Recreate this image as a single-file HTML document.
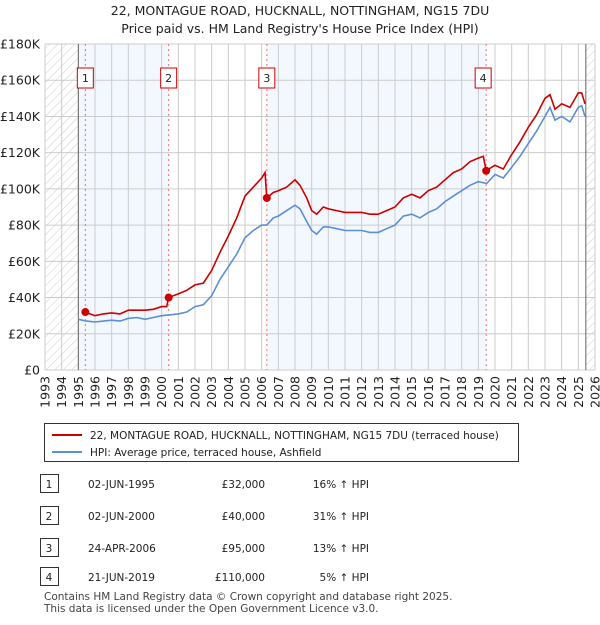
<!DOCTYPE html>
<html><head><meta charset="utf-8"><style>
body{margin:0;background:#fff;font-family:"Liberation Sans","DejaVu Sans",sans-serif;}
</style></head><body>
<svg width="600" height="620" xmlns="http://www.w3.org/2000/svg" font-family="DejaVu Sans, Liberation Sans, sans-serif">
<defs><pattern id="hatch" width="6" height="6" patternUnits="userSpaceOnUse" patternTransform="rotate(45)"><line x1="0" y1="0" x2="0" y2="6" stroke="#ccc" stroke-width="1"/></pattern></defs>
<text x="300" y="15" text-anchor="middle" font-size="12.5" fill="#222">22, MONTAGUE ROAD, HUCKNALL, NOTTINGHAM, NG15 7DU</text>
<text x="300" y="33" text-anchor="middle" font-size="12.5" fill="#222">Price paid vs. HM Land Registry's House Price Index (HPI)</text>
<g id="plot"></g>
<g>
<rect x="44.5" y="423.5" width="474" height="38" fill="#fff" stroke="#333"/>
<line x1="52" y1="435" x2="82" y2="435" stroke="#cc0000" stroke-width="2"/>
<text x="90" y="439" font-size="10.5" fill="#222">22, MONTAGUE ROAD, HUCKNALL, NOTTINGHAM, NG15 7DU (terraced house)</text>
<line x1="52" y1="452" x2="82" y2="452" stroke="#5b8fd4" stroke-width="2"/>
<text x="90" y="456" font-size="10.5" fill="#222">HPI: Average price, terraced house, Ashfield</text>
</g>
<g id="table" font-size="10.5" fill="#222"></g>
<text x="44" y="600" font-size="10.5" fill="#444">Contains HM Land Registry data © Crown copyright and database right 2025.</text>
<text x="44" y="612" font-size="10.5" fill="#444">This data is licensed under the Open Government Licence v3.0.</text>
</svg>
<script>
const hpiYears=[1995,1995.5,1996,1996.5,1997,1997.5,1998,1998.5,1999,1999.5,2000,2000.5,2001,2001.5,2002,2002.5,2003,2003.5,2004,2004.5,2005,2005.5,2006,2006.3,2006.7,2007,2007.5,2008,2008.3,2008.7,2009,2009.3,2009.7,2010,2010.5,2011,2011.5,2012,2012.5,2013,2013.5,2014,2014.5,2015,2015.5,2016,2016.5,2017,2017.5,2018,2018.5,2019,2019.5,2020,2020.5,2021,2021.5,2022,2022.5,2023,2023.3,2023.6,2024,2024.5,2025,2025.2,2025.4];
const hpiValues=[28,27,26.5,27,27.5,27,28.5,29,28,29,30,30.5,31,32,35,36,41,50,57,64,73,77,80,80,84,85,88,91,89,82,77,75,79,79,78,77,77,77,76,76,78,80,85,86,84,87,89,93,96,99,102,104,103,108,106,112,118,125,132,140,145,138,140,137,145,146,140];
const priceYears=[1995.42,1995.7,1996,1996.5,1997,1997.5,1998,1998.5,1999,1999.5,2000,2000.3,2000.42,2000.7,2001,2001.5,2002,2002.5,2003,2003.5,2004,2004.5,2005,2005.5,2006,2006.2,2006.31,2006.7,2007,2007.5,2008,2008.3,2008.7,2009,2009.3,2009.7,2010,2010.5,2011,2011.5,2012,2012.5,2013,2013.5,2014,2014.5,2015,2015.5,2016,2016.5,2017,2017.5,2018,2018.5,2019,2019.3,2019.47,2019.8,2020,2020.5,2021,2021.5,2022,2022.5,2023,2023.3,2023.6,2024,2024.5,2025,2025.2,2025.4];
const priceValues=[32,31,30,31,31.5,31,33,33,33,33.5,35,35,40,41,42,44,47,48,55,65,74,84,96,101,106,109,95,98,99,101,105,102,95,88,86,90,89,88,87,87,87,86,86,88,90,95,97,95,99,101,105,109,111,115,117,118,110,112,113,111,119,126,134,141,150,152,144,147,145,153,153,147];
const saleYears=[1995.42,2000.42,2006.31,2019.47];
const saleValues=[32,40,95,110];
const saleLabels=["1","2","3","4"];
const saleDates=["02-JUN-1995","02-JUN-2000","24-APR-2006","21-JUN-2019"];
const salePrices=["£32,000","£40,000","£95,000","£110,000"];
const salePct=["16% ↑ HPI","31% ↑ HPI","13% ↑ HPI","5% ↑ HPI"];
const yTicks=[0,20,40,60,80,100,120,140,160,180];
const yTickLabels=["£0","£20K","£40K","£60K","£80K","£100K","£120K","£140K","£160K","£180K"];
const xTicks=[1993,1994,1995,1996,1997,1998,1999,2000,2001,2002,2003,2004,2005,2006,2007,2008,2009,2010,2011,2012,2013,2014,2015,2016,2017,2018,2019,2020,2021,2022,2023,2024,2025,2026];

const NS="http://www.w3.org/2000/svg";
const L=45,R=595,T=44,B=370;
const X=y=>L+(y-1993)/(2026-1993)*(R-L);
const Y=v=>B-v/180*(B-T);
function mk(tag,attrs,parent){const e=document.createElementNS(NS,tag);for(const k in attrs)e.setAttribute(k,attrs[k]);parent.appendChild(e);return e;}
const g=document.getElementById('plot');
// shaded bands
let e;
e=mk('rect',{x:X(1995),y:T,width:X(2000.42)-X(1995),height:B-T,fill:'#eef3fd',opacity:0.7},g);


e=mk('rect',{x:X(2006.31),y:T,width:X(2019.47)-X(2006.31),height:B-T,fill:'#eef3fd',opacity:0.7},g);


e=mk('rect',{x:L,y:T,width:X(1995)-L,height:B-T,fill:'url(#hatch)'},g);


e=mk('rect',{x:X(2025.45),y:T,width:R-X(2025.45),height:B-T,fill:'url(#hatch)'},g);


// grid
yTicks.forEach((v,i)=>{
 e=mk('line',{x1:L,x2:R,y1:Y(v),y2:Y(v),stroke:'#ccc','stroke-width':1},g);
 
 
 e=mk('text',{x:40,y:Y(v)+4.5,'text-anchor':'end','font-size':12.5,fill:'#222'},g);
 e.textContent=yTickLabels[i];
 
 
});
xTicks.forEach(yr=>{
 e=mk('line',{x1:X(yr),x2:X(yr),y1:T,y2:B,stroke:'#ccc','stroke-width':1},g);
 
 
 e=mk('text',{x:0,y:0,'text-anchor':'end','font-size':12.5,fill:'#222',transform:`translate(${X(yr)+4.5},376) rotate(-90)`},g);
 e.textContent=yr;
 
 
});
e=mk('line',{x1:X(1995),x2:X(1995),y1:T,y2:B,stroke:'#666','stroke-width':1},g);


e=mk('line',{x1:X(2025.45),x2:X(2025.45),y1:T,y2:B,stroke:'#666','stroke-width':1},g);


// sale vlines & labels
saleYears.forEach((yr,i)=>{
 e=mk('line',{x1:X(yr),x2:X(yr),y1:T,y2:B,stroke:'#f07070','stroke-width':1,'stroke-dasharray':'2,3'},g);
 
 
 e=mk('rect',{x:X(yr)-8-(i==3?3:0),y:68,width:16,height:20,fill:'#fff',stroke:'#cc0000'},g);
 
 
 e=mk('text',{x:X(yr)-(i==3?3:0),y:82,'text-anchor':'middle','font-size':11,fill:'#222'},g);
 e.textContent=saleLabels[i];
 
 
});
// lines
const path=(xs,vs)=>xs.map((x,i)=>(i?'L':'M')+X(x).toFixed(1)+','+Y(vs[i]).toFixed(1)).join('');
e=mk('path',{d:path(hpiYears,hpiValues),fill:'none',stroke:'#5b8fd4','stroke-width':1.6},g);


e=mk('path',{d:path(priceYears,priceValues),fill:'none',stroke:'#cc0000','stroke-width':1.6},g);


saleYears.forEach((yr,i)=>{
 e=mk('circle',{cx:X(yr),cy:Y(saleValues[i]),r:4,fill:'#cc0000'},g);
 
 
});
// table
const t=document.getElementById('table');
const rowsY=[484,516,548,577];
rowsY.forEach((ry,i)=>{
 e=mk('rect',{x:40.5,y:ry-9.5,width:18,height:18,fill:'#fff',stroke:'#333'},t);
 
 
 const cols=[[49,saleLabels[i],'middle'],[88,saleDates[i],'start'],[265,salePrices[i],'end'],[369,salePct[i],'end']];
 cols.forEach(c=>{
  e=mk('text',{x:c[0],y:ry+4,'text-anchor':c[2]},t);
  e.textContent=c[1];
  
  
 });
});
</script>
</body></html>
